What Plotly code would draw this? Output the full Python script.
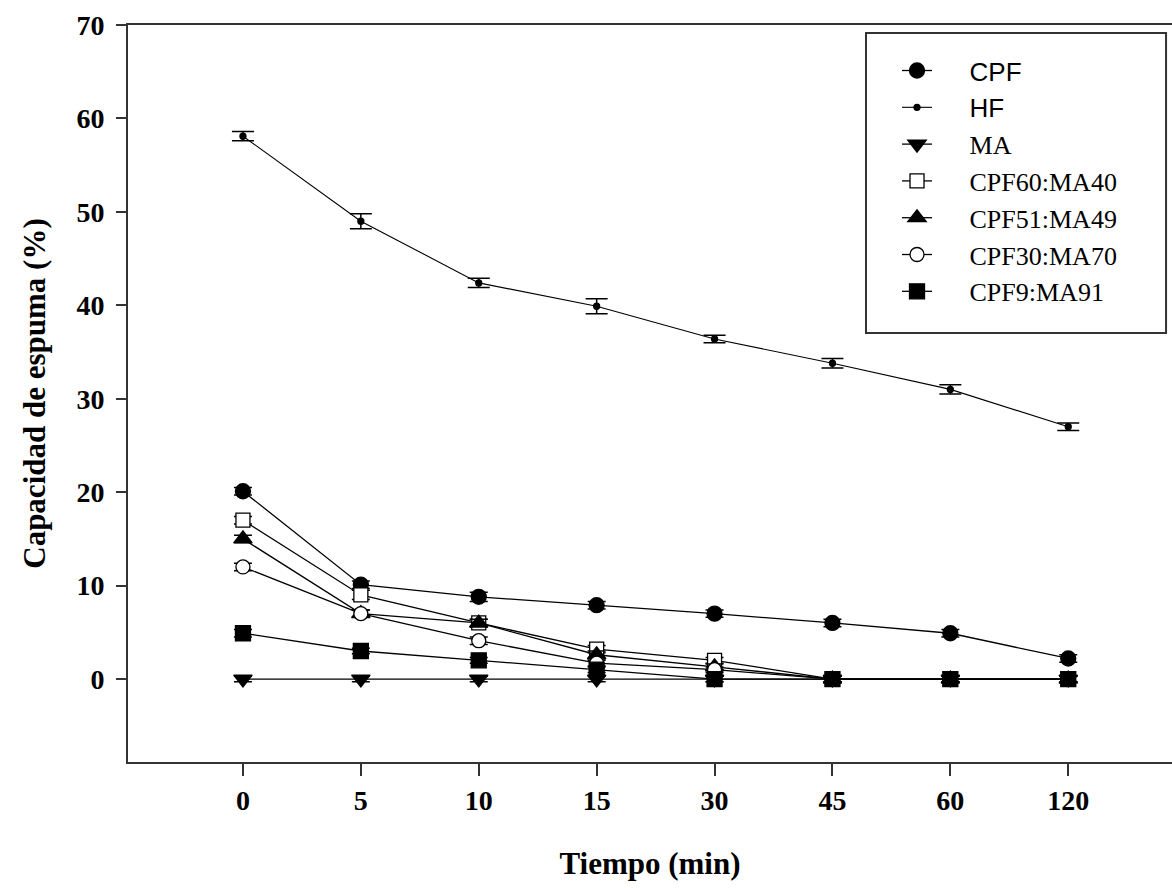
import plotly.graph_objects as go

tiempo = ["0", "5", "10", "15", "30", "45", "60", "120"]

cpf = [20.1, 10.1, 8.8, 7.9, 7.0, 6.0, 4.9, 2.2]
cpf_err = [0.4, 0.4, 0.5, 0.4, 0.4, 0.4, 0.4, 0.4]
hf = [58.1, 49.0, 42.4, 39.9, 36.4, 33.8, 31.0, 27.0]
hf_err = [0.5, 0.8, 0.5, 0.8, 0.4, 0.5, 0.5, 0.4]
ma = [0, 0, 0, 0, 0, 0, 0, 0]
ma_err = [0.3, 0.3, 0.3, 0.3, 0.3, 0.3, 0.3, 0.3]
cpf60 = [17.0, 9.0, 6.0, 3.2, 2.0, 0, 0, 0]
cpf60_err = [0.4, 0.5, 0.4, 0.4, 0.3, 0.3, 0.3, 0.3]
cpf51 = [15.0, 7.0, 6.0, 2.6, 1.3, 0, 0, 0]
cpf51_err = [0.4, 0.4, 0.4, 0.4, 0.3, 0.3, 0.3, 0.3]
cpf30 = [12.0, 7.0, 4.1, 1.7, 1.0, 0, 0, 0]
cpf30_err = [0.4, 0.4, 0.4, 0.3, 0.3, 0.3, 0.3, 0.3]
cpf9 = [4.9, 3.0, 2.0, 1.0, 0, 0, 0, 0]
cpf9_err = [0.4, 0.3, 0.3, 0.3, 0.3, 0.3, 0.3, 0.3]

SANS = "Liberation Sans, Arial, sans-serif"
SERIF = "Liberation Serif, Times New Roman, serif"
PAD = "&nbsp;" * 5

series = [
    ("<span style='font-family:Liberation Sans'>CPF</span>", cpf, cpf_err, "circle", "black", 15, 1.3),
    ("<span style='font-family:Liberation Sans'>HF</span>", hf, hf_err, "circle", "black", 6, 1.1),
    ("MA", ma, ma_err, "triangle-down", "black", 16, 1.3),
    ("CPF60:MA40", cpf60, cpf60_err, "square", "white", 14, 1.3),
    ("CPF51:MA49", cpf51, cpf51_err, "triangle-up", "black", 16, 1.3),
    ("CPF30:MA70", cpf30, cpf30_err, "circle", "white", 14, 1.3),
    ("CPF9:MA91", cpf9, cpf9_err, "square", "black", 15, 1.3),
]

fig = go.Figure()
for i, (name, vals, err, sym, fill, size, lw) in enumerate(series):
    fig.add_trace(go.Scatter(
        x=tiempo, y=vals, name=PAD + name, mode="lines+markers",
        legendgroup="g%d" % i,
        line=dict(color="black", width=lw),
        marker=dict(symbol=sym, size=size, color=fill,
                    line=dict(color="black", width=1.3)),
        error_y=dict(type="data", array=err, visible=True,
                     color="black", thickness=1.5,
                     width=11 if vals is hf else 9),
    ))

# legend frame
fig.add_shape(type="rect", xref="paper", yref="paper",
              x0=0.7069, x1=0.9943, y0=0.582, y1=0.989,
              line=dict(color="#333333", width=2), fillcolor="rgba(0,0,0,0)")

fig.update_layout(
    width=1172, height=888,
    margin=dict(l=128, r=0, t=25, b=126),
    plot_bgcolor="white", paper_bgcolor="white",
    font=dict(family=SERIF, color="black"),
    showlegend=True,
    legend=dict(
        x=0.7366, y=0.970, xanchor="left", yanchor="top",
        borderwidth=0, bgcolor="rgba(0,0,0,0)",
        font=dict(family=SERIF, size=26, color="black"),
        tracegroupgap=0, traceorder="grouped", itemsizing="trace",
    ),
)

fig.update_xaxes(
    type="category", range=[-0.975, 7.88],
    showline=True, linecolor="#333333", linewidth=2, mirror=True,
    ticks="outside", ticklen=12, tickwidth=2, tickcolor="#333333",
    showgrid=False, zeroline=False,
    tickfont=dict(family=SERIF, size=28, color="black", weight="bold"),
    title=dict(text="<b>Tiempo (min)</b>", standoff=38,
               font=dict(family=SERIF, size=31, color="black")),
)
fig.update_yaxes(
    range=[-8.88, 70], tickvals=[0, 10, 20, 30, 40, 50, 60, 70],
    showline=True, linecolor="#333333", linewidth=2,
    ticks="outside", ticklen=10, tickwidth=2, tickcolor="#333333",
    showgrid=False, zeroline=False, ticklabelstandoff=6,
    tickfont=dict(family=SERIF, size=28, color="black", weight="bold"),
    title=dict(text="<b>Capacidad de espuma (%)</b>", standoff=22,
               font=dict(family=SERIF, size=31, color="black")),
)

fig.write_html("out.html", config={"displayModeBar": False},
               post_script="document.body.style.margin='0';document.body.style.overflow='hidden';")
